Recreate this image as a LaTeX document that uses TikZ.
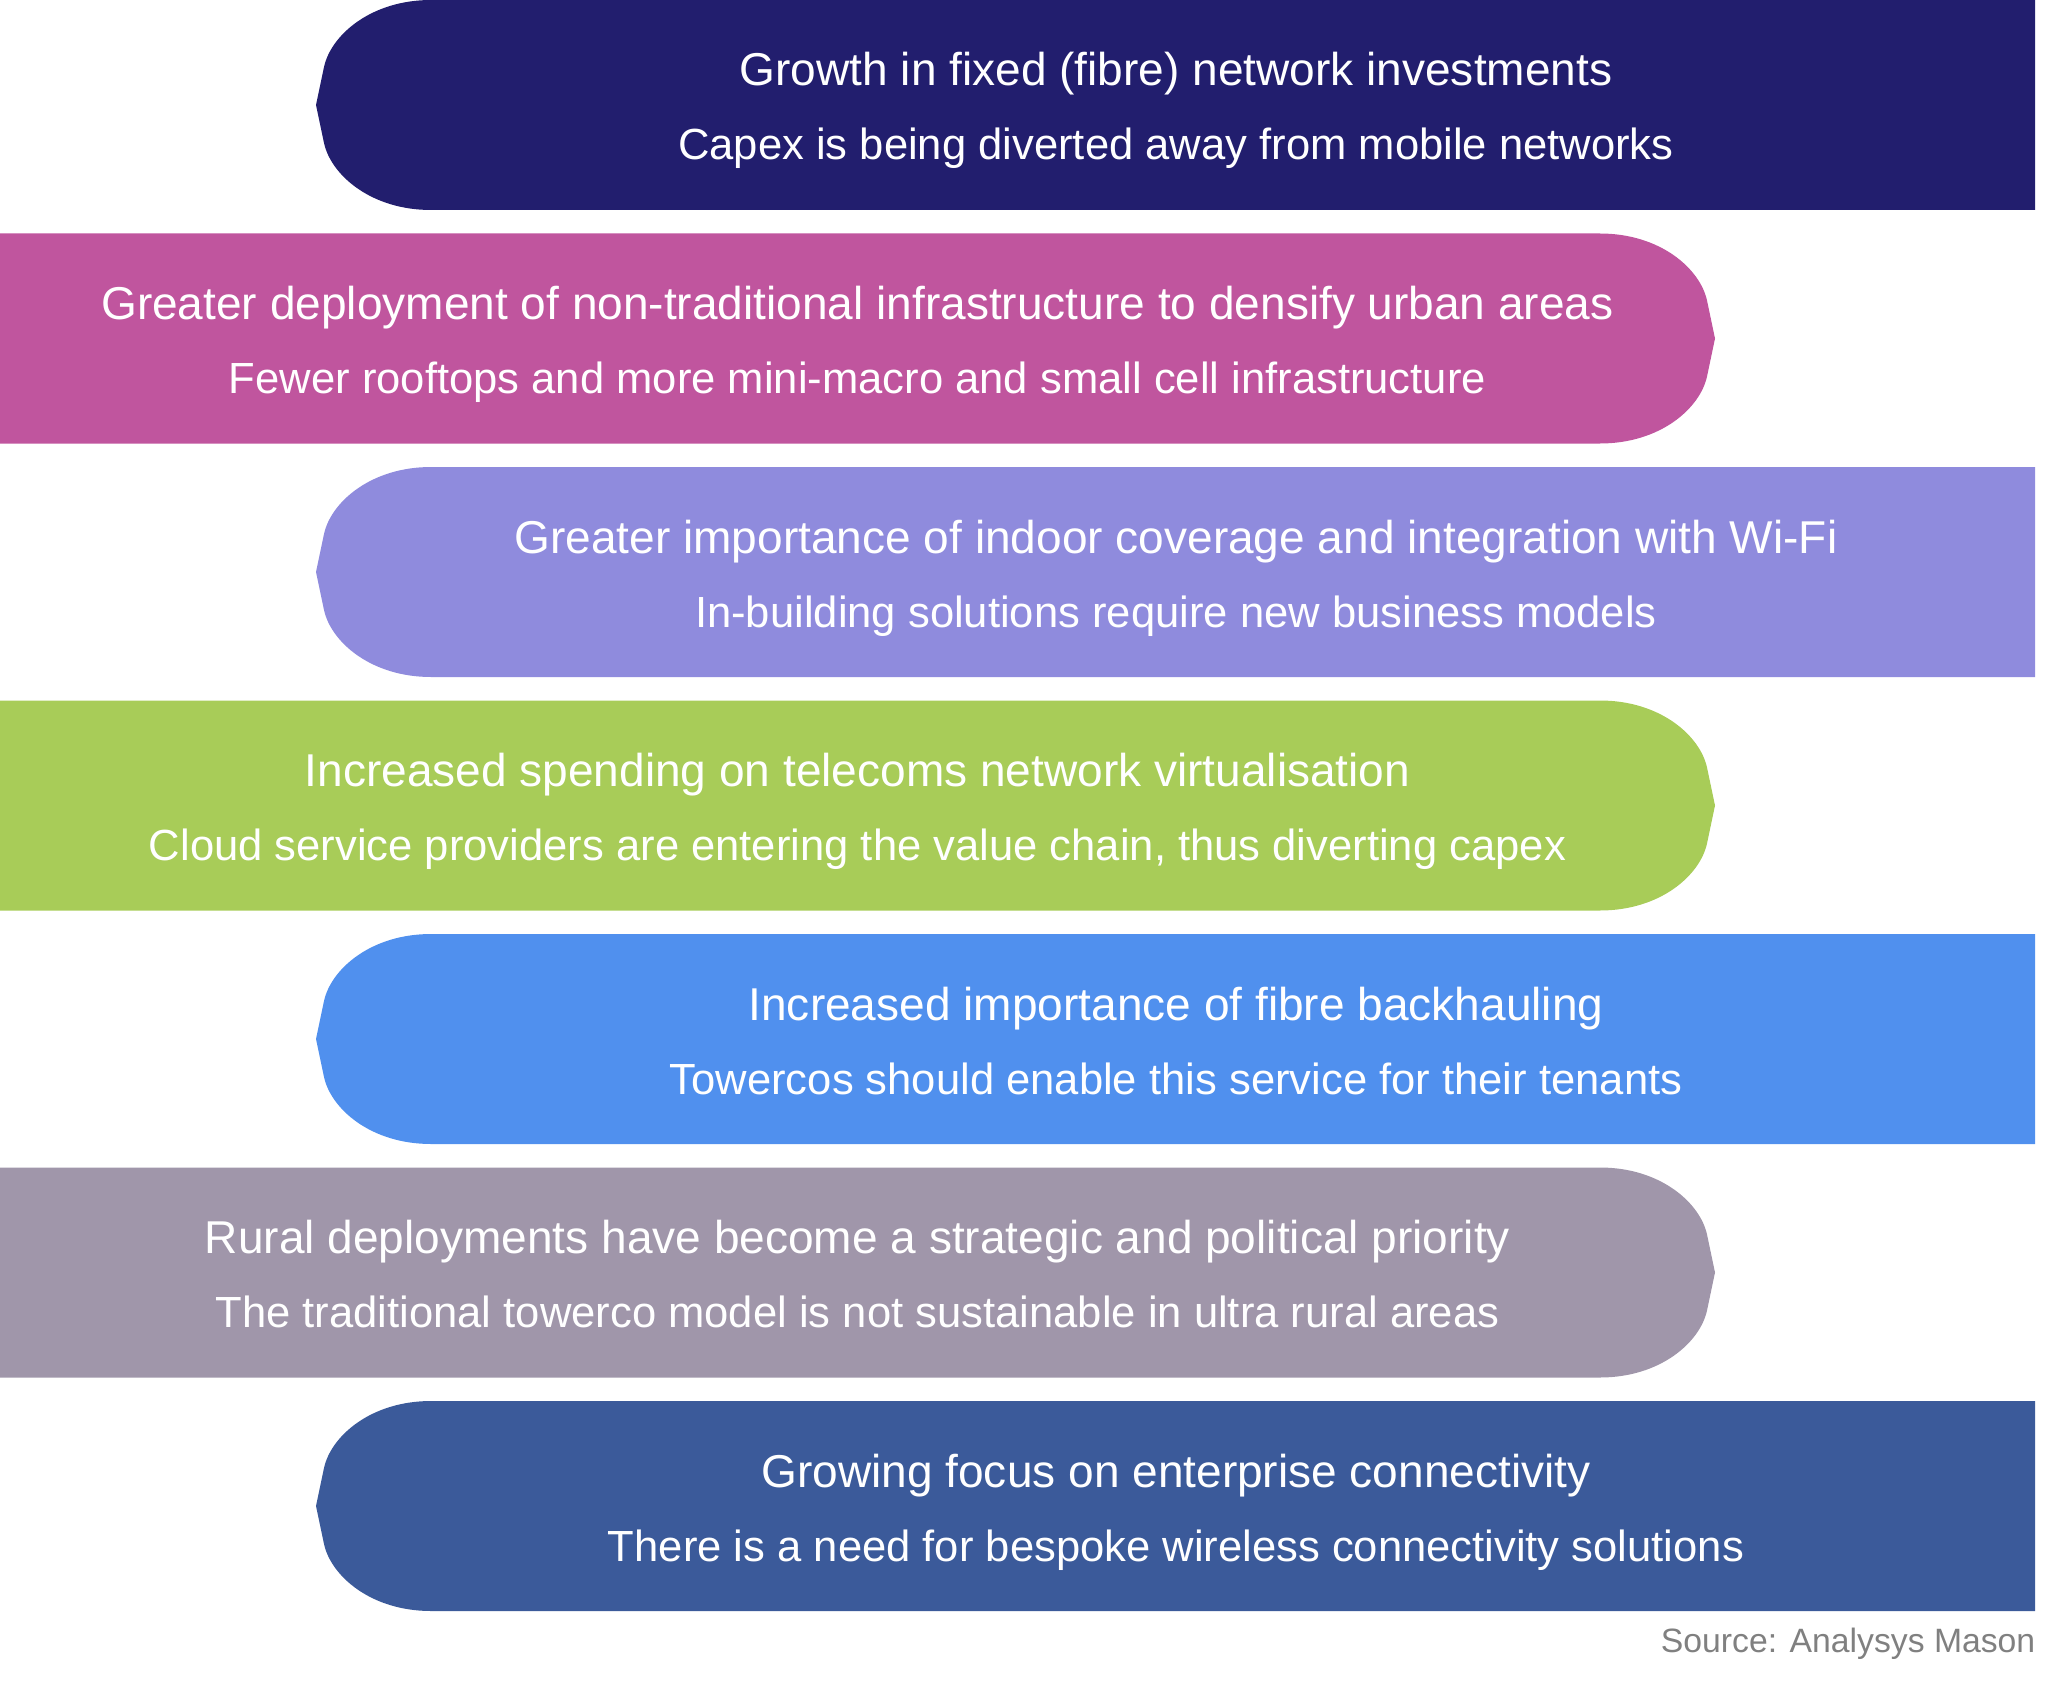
\documentclass[tikz,border=0pt]{standalone}
\usepackage{fontspec}
\setmainfont{Liberation Sans}
\newfontfamily\barfont{Liberation Sans}
\usepackage{xcolor}
\usetikzlibrary{positioning}

\definecolor{fibrenavy}{HTML}{221E6E}
\definecolor{urbanpink}{HTML}{C0559E}
\definecolor{indoorlilac}{HTML}{8F8BDD}
\definecolor{cloudgreen}{HTML}{A8CC58}
\definecolor{backhaulblue}{HTML}{5090EE}
\definecolor{ruralgrey}{HTML}{A096AA}
\definecolor{enterpriseblue}{HTML}{3B5A9A}

\begin{document}
\begin{tikzpicture}[
    headline/.style={text=white, anchor=base, inner sep=0pt,
                     font=\barfont\fontsize{13.1}{15}\selectfont},
    subline/.style={headline, font=\barfont\fontsize{12.4}{14}\selectfont},
    source/.style={text=black!50, anchor=base east, inner sep=0pt,
                   font=\fontsize{9.6}{11}\selectfont},
]

\useasboundingbox (0,0) rectangle (20.72,-16.83);

\def\P{2.335}

% ══════════════════════════════════════
% Bars pointing left (right-aligned)
% ══════════════════════════════════════
\begin{scope}[shift={(0,0)}]
    \fill[fibrenavy] (20.35,0) -- (4.31,0) .. controls (3.71,0) and (3.31,-0.35) .. (3.24,-0.67)
        -- (3.16,-1.05) -- (3.24,-1.43) .. controls (3.31,-1.75) and (3.71,-2.10) .. (4.31,-2.10)
        -- (20.35,-2.10) -- cycle;
    \node[headline] (h1) at (11.76,-0.86) {Growth in fixed (fibre) network investments};
    \node[subline] (s1) at (11.76,-1.60) {Capex is being diverted away from mobile networks};
\end{scope}

\begin{scope}[shift={(0,-2*\P)}]
    \fill[indoorlilac] (20.35,0) -- (4.31,0) .. controls (3.71,0) and (3.31,-0.35) .. (3.24,-0.67)
        -- (3.16,-1.05) -- (3.24,-1.43) .. controls (3.31,-1.75) and (3.71,-2.10) .. (4.31,-2.10)
        -- (20.35,-2.10) -- cycle;
    \node[headline] (h3) at (11.76,-0.86) {Greater importance of indoor coverage and integration with Wi-Fi};
    \node[subline] (s3) at (11.76,-1.60) {In-building solutions require new business models};
\end{scope}

\begin{scope}[shift={(0,-4*\P)}]
    \fill[backhaulblue] (20.35,0) -- (4.31,0) .. controls (3.71,0) and (3.31,-0.35) .. (3.24,-0.67)
        -- (3.16,-1.05) -- (3.24,-1.43) .. controls (3.31,-1.75) and (3.71,-2.10) .. (4.31,-2.10)
        -- (20.35,-2.10) -- cycle;
    \node[headline] (h5) at (11.76,-0.86) {Increased importance of fibre backhauling};
    \node[subline] (s5) at (11.76,-1.60) {Towercos should enable this service for their tenants};
\end{scope}

\begin{scope}[shift={(0,-6*\P)}]
    \fill[enterpriseblue] (20.35,0) -- (4.31,0) .. controls (3.71,0) and (3.31,-0.35) .. (3.24,-0.67)
        -- (3.16,-1.05) -- (3.24,-1.43) .. controls (3.31,-1.75) and (3.71,-2.10) .. (4.31,-2.10)
        -- (20.35,-2.10) -- cycle;
    \node[headline] (h7) at (11.76,-0.86) {Growing focus on enterprise connectivity};
    \node[subline] (s7) at (11.76,-1.60) {There is a need for bespoke wireless connectivity solutions};
\end{scope}

% ══════════════════════════════════════
% Bars pointing right (left-aligned)
% ══════════════════════════════════════
\begin{scope}[shift={(0,-1*\P)}]
    \fill[urbanpink] (0,0) -- (16.00,0) .. controls (16.60,0) and (17.00,-0.35) .. (17.07,-0.67)
        -- (17.15,-1.05) -- (17.07,-1.43) .. controls (17.00,-1.75) and (16.60,-2.10) .. (16.00,-2.10)
        -- (0,-2.10) -- cycle;
    \node[headline] (h2) at (8.575,-0.86) {Greater deployment of non-traditional infrastructure to densify urban areas};
    \node[subline] (s2) at (8.575,-1.60) {Fewer rooftops and more mini-macro and small cell infrastructure};
\end{scope}

\begin{scope}[shift={(0,-3*\P)}]
    \fill[cloudgreen] (0,0) -- (16.00,0) .. controls (16.60,0) and (17.00,-0.35) .. (17.07,-0.67)
        -- (17.15,-1.05) -- (17.07,-1.43) .. controls (17.00,-1.75) and (16.60,-2.10) .. (16.00,-2.10)
        -- (0,-2.10) -- cycle;
    \node[headline] (h4) at (8.575,-0.86) {Increased spending on telecoms network virtualisation};
    \node[subline] (s4) at (8.575,-1.60) {Cloud service providers are entering the value chain, thus diverting capex};
\end{scope}

\begin{scope}[shift={(0,-5*\P)}]
    \fill[ruralgrey] (0,0) -- (16.00,0) .. controls (16.60,0) and (17.00,-0.35) .. (17.07,-0.67)
        -- (17.15,-1.05) -- (17.07,-1.43) .. controls (17.00,-1.75) and (16.60,-2.10) .. (16.00,-2.10)
        -- (0,-2.10) -- cycle;
    \node[headline] (h6) at (8.575,-0.86) {Rural deployments have become a strategic and political priority};
    \node[subline] (s6) at (8.575,-1.60) {The traditional towerco model is not sustainable in ultra rural areas};
\end{scope}

% source note
\node[source] (src) at (20.36,-16.52) {Source: Analysys Mason};

\end{tikzpicture}
\end{document}
